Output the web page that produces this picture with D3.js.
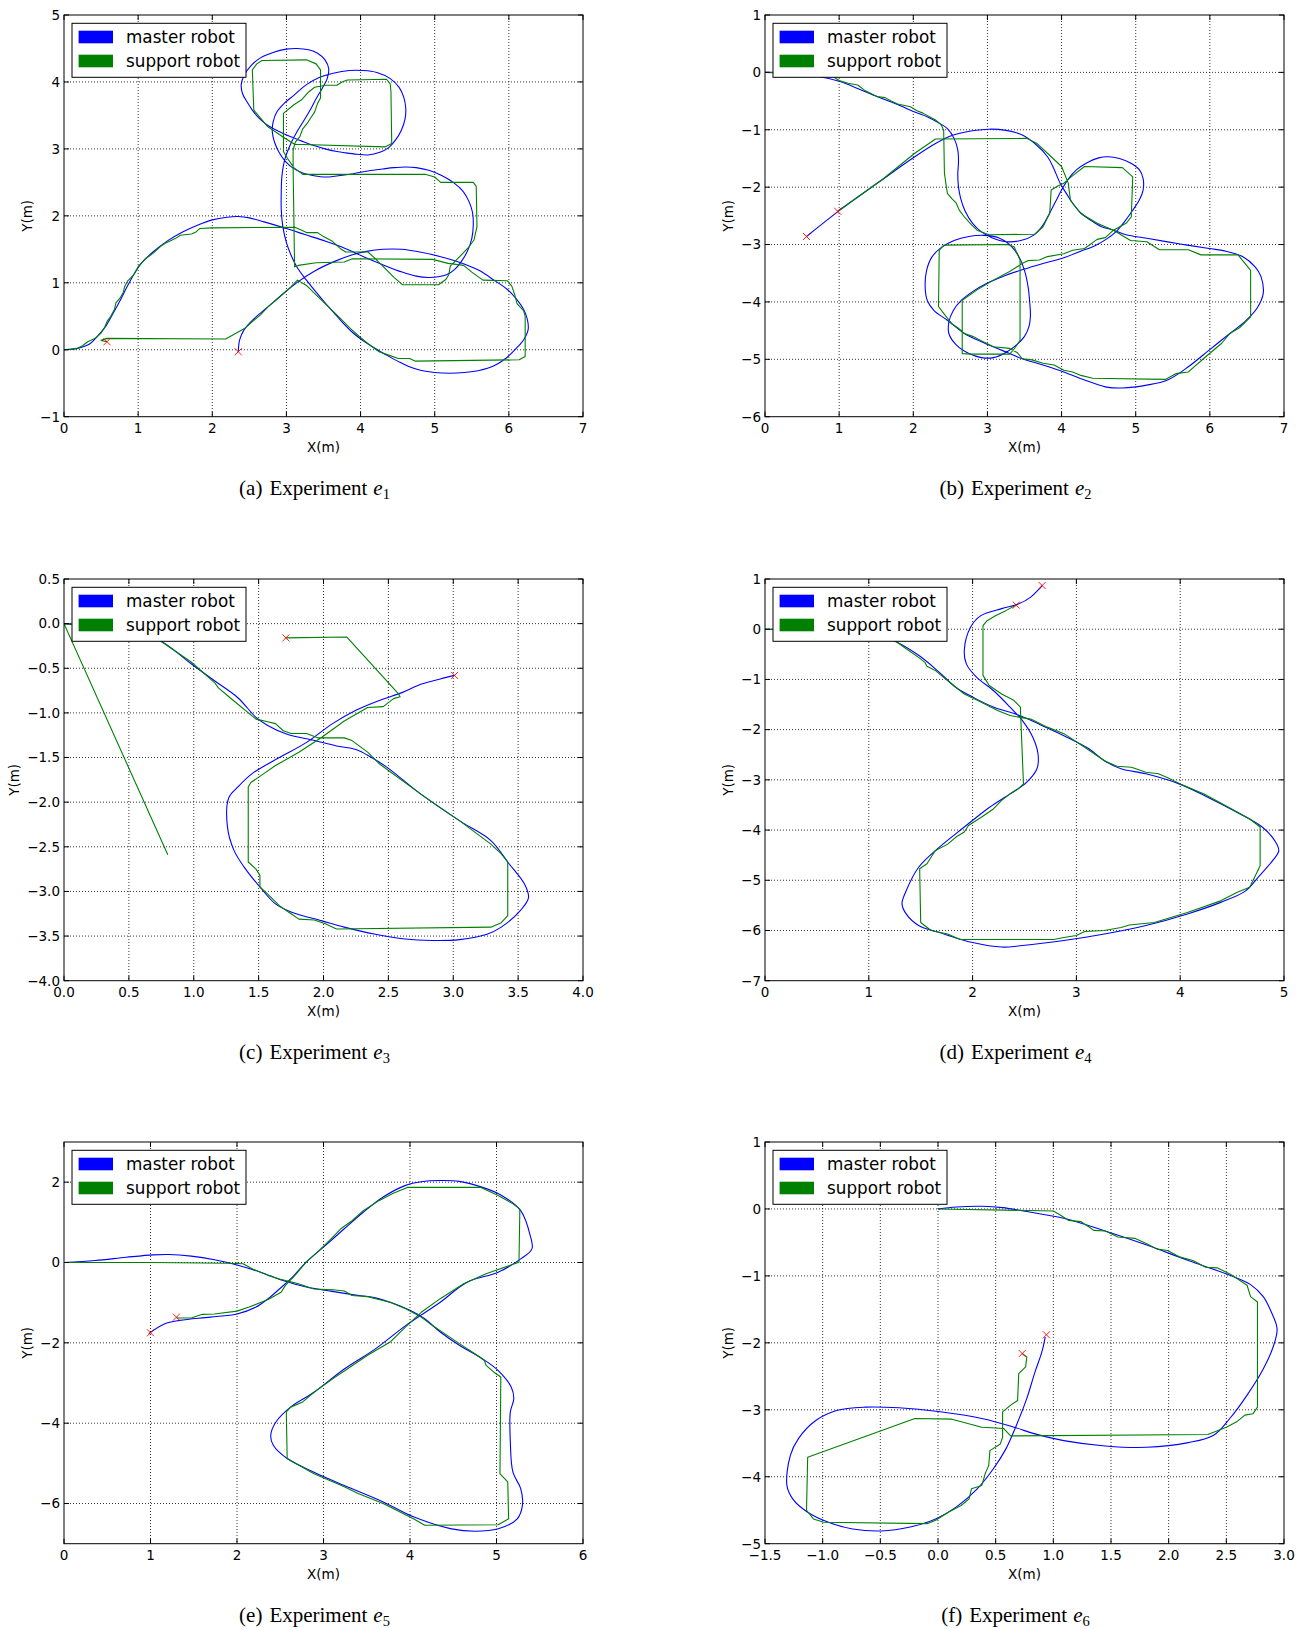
<!DOCTYPE html>
<html>
<head>
<meta charset="utf-8">
<script src="https://cdn.jsdelivr.net/npm/d3@7"></script>
<style>
  body { margin: 0; background: #fff; }
  text { font-family: "DejaVu Sans", sans-serif; }
  .cap { font-family: "Liberation Serif", "Times New Roman", serif; }
</style>
</head>
<body>
<svg id="fig" width="1299" height="1629"></svg>
<script>
// ---- data (metres) ----

// (a) experiment e1
const masterA = [[0,0],[0.15,0.01],[0.25,0.04],[0.35,0.09],[0.45,0.2],[0.55,0.33],[0.65,0.52],[0.75,0.72],[0.85,0.94],[0.95,1.14],[1.05,1.3],[1.2,1.46],[1.4,1.63],[1.6,1.76],[1.8,1.86],[2.0,1.94],[2.2,1.98],[2.35,1.99],[2.5,1.97],[2.7,1.91],[3.0,1.81],[3.25,1.72],[3.53,1.62],[3.8,1.51],[4.04,1.39],[4.3,1.27],[4.56,1.16],[4.75,1.1],[4.92,1.08],[5.05,1.09],[5.16,1.12],[5.27,1.2],[5.36,1.32],[5.44,1.47],[5.5,1.66],[5.52,1.86],[5.51,2.05],[5.46,2.22],[5.38,2.37],[5.25,2.5],[5.1,2.6],[4.92,2.68],[4.75,2.72],[4.61,2.73],[4.45,2.72],[4.3,2.7],[4.1,2.67],[3.9,2.63],[3.7,2.6],[3.53,2.58],[3.37,2.6],[3.22,2.64],[3.08,2.72],[2.98,2.82],[2.9,2.95],[2.84,3.1],[2.81,3.25],[2.82,3.4],[2.87,3.55],[2.97,3.68],[3.1,3.8],[3.27,3.96],[3.45,4.07],[3.63,4.13],[3.85,4.17],[4.04,4.17],[4.22,4.14],[4.4,4.05],[4.52,3.92],[4.58,3.78],[4.61,3.6],[4.6,3.45],[4.55,3.28],[4.47,3.13],[4.38,3.02],[4.26,2.95],[4.1,2.91],[3.95,2.92],[3.8,2.94],[3.68,2.96],[3.52,3.0],[3.37,3.05],[3.2,3.12],[3.06,3.18],[2.9,3.26],[2.75,3.35],[2.63,3.46],[2.54,3.58],[2.47,3.7],[2.41,3.82],[2.39,3.96],[2.43,4.1],[2.52,4.24],[2.65,4.36],[2.82,4.44],[3.0,4.49],[3.14,4.5],[3.3,4.48],[3.42,4.43],[3.52,4.33],[3.57,4.2],[3.55,4.05],[3.48,3.9],[3.4,3.75],[3.33,3.6],[3.25,3.45],[3.15,3.27],[3.06,3.08],[2.98,2.85],[2.94,2.6],[2.93,2.35],[2.93,2.1],[2.95,1.85],[3.0,1.6],[3.06,1.42],[3.15,1.22],[3.27,1.04],[3.4,0.86],[3.53,0.69],[3.66,0.53],[3.78,0.38],[3.9,0.25],[4.04,0.13],[4.2,0.02],[4.35,-0.08],[4.5,-0.17],[4.65,-0.25],[4.82,-0.31],[5.0,-0.34],[5.2,-0.35],[5.4,-0.34],[5.6,-0.31],[5.8,-0.24],[5.97,-0.12],[6.1,0.02],[6.2,0.15],[6.26,0.3],[6.25,0.45],[6.2,0.6],[6.1,0.76],[5.98,0.9],[5.8,1.04],[5.59,1.19],[5.35,1.3],[5.08,1.39],[4.8,1.46],[4.55,1.5],[4.3,1.5],[4.08,1.47],[3.89,1.42],[3.65,1.32],[3.37,1.17],[3.15,1.01],[2.96,0.84],[2.75,0.64],[2.54,0.44],[2.43,0.3],[2.37,0.15],[2.35,-0.03]];
const supportA = [[0,0],[0.17,0.02],[0.25,0.06],[0.32,0.12],[0.42,0.17],[0.5,0.25],[0.55,0.34],[0.58,0.42],[0.63,0.5],[0.68,0.6],[0.7,0.7],[0.76,0.78],[0.8,0.86],[0.82,0.95],[0.86,1.03],[0.94,1.12],[1.0,1.24],[1.1,1.36],[1.2,1.44],[1.3,1.54],[1.38,1.6],[1.5,1.66],[1.57,1.71],[1.72,1.73],[1.78,1.76],[1.83,1.81],[2.0,1.82],[3.11,1.83],[3.2,1.79],[3.27,1.75],[3.42,1.75],[3.5,1.69],[3.62,1.62],[3.68,1.56],[3.74,1.5],[3.8,1.46],[4.1,1.46],[4.18,1.38],[4.3,1.25],[4.45,1.08],[4.57,0.97],[5.05,0.97],[5.15,1.05],[5.19,1.12],[5.21,1.25],[5.3,1.35],[5.45,1.52],[5.53,1.64],[5.57,1.84],[5.56,2.44],[5.52,2.5],[5.08,2.5],[5.0,2.58],[4.87,2.62],[3.22,2.62],[3.1,2.72],[3.02,2.85],[2.96,2.96],[2.96,3.53],[3.1,3.66],[3.2,3.73],[3.3,3.85],[3.38,3.92],[3.53,3.95],[3.68,3.95],[3.75,4.0],[3.82,4.03],[4.35,4.04],[4.4,3.97],[4.41,3.85],[4.42,3.08],[4.33,3.03],[3.11,3.07],[2.98,3.16],[2.75,3.33],[2.56,3.58],[2.54,4.18],[2.6,4.27],[2.67,4.32],[3.27,4.33],[3.4,4.27],[3.46,4.18],[3.46,3.76],[3.42,3.68],[3.38,3.55],[3.32,3.45],[3.28,3.38],[3.22,3.3],[3.18,3.18],[3.12,3.1],[3.09,2.98],[3.09,2.73],[3.11,1.24],[3.16,1.26],[3.4,1.3],[3.78,1.31],[3.89,1.36],[4.97,1.35],[5.18,1.29],[5.39,1.26],[5.5,1.16],[5.65,1.04],[5.98,1.03],[6.04,0.95],[6.08,0.82],[6.11,0.69],[6.2,0.58],[6.22,0.5],[6.22,-0.1],[6.14,-0.15],[4.74,-0.17],[4.66,-0.13],[4.51,-0.13],[4.38,-0.08],[4.25,-0.03],[4.1,0.09],[3.99,0.19],[3.85,0.33],[3.7,0.5],[3.55,0.66],[3.4,0.82],[3.27,0.96],[3.15,1.04],[3.06,0.94],[2.9,0.78],[2.75,0.64],[2.65,0.52],[2.54,0.42],[2.44,0.32],[2.18,0.16],[0.58,0.17],[0.5,0.14],[0.58,0.12]];
const endsA = [[0.58,0.12],[2.35,-0.03]];

// (b) experiment e2
const masterB = [[0,0],[0.3,-0.01],[0.67,-0.06],[1.01,-0.16],[1.25,-0.28],[1.51,-0.42],[1.77,-0.55],[2.02,-0.69],[2.2,-0.78],[2.33,-0.87],[2.46,-0.98],[2.55,-1.15],[2.6,-1.35],[2.61,-1.55],[2.6,-1.78],[2.61,-2.0],[2.64,-2.2],[2.7,-2.42],[2.8,-2.63],[2.92,-2.78],[3.06,-2.88],[3.25,-2.95],[3.45,-2.93],[3.62,-2.84],[3.74,-2.68],[3.84,-2.45],[3.92,-2.25],[4.0,-2.05],[4.09,-1.86],[4.2,-1.7],[4.35,-1.57],[4.5,-1.49],[4.63,-1.47],[4.78,-1.5],[4.93,-1.58],[5.05,-1.7],[5.1,-1.85],[5.1,-2.05],[5.05,-2.22],[4.95,-2.42],[4.85,-2.6],[4.74,-2.77],[4.6,-2.91],[4.45,-3.02],[4.25,-3.12],[4.03,-3.23],[3.75,-3.33],[3.47,-3.44],[3.2,-3.56],[3.0,-3.67],[2.8,-3.82],[2.65,-3.97],[2.54,-4.15],[2.48,-4.35],[2.48,-4.55],[2.58,-4.75],[2.75,-4.9],[2.92,-4.97],[3.08,-4.97],[3.25,-4.88],[3.4,-4.74],[3.5,-4.6],[3.56,-4.43],[3.58,-4.25],[3.57,-4.0],[3.55,-3.75],[3.5,-3.45],[3.42,-3.2],[3.3,-3.0],[3.15,-2.88],[2.95,-2.84],[2.75,-2.86],[2.55,-2.93],[2.38,-3.05],[2.25,-3.22],[2.18,-3.45],[2.16,-3.74],[2.19,-3.98],[2.28,-4.15],[2.46,-4.32],[2.69,-4.55],[2.91,-4.69],[3.19,-4.84],[3.47,-4.99],[3.75,-5.1],[4.03,-5.22],[4.31,-5.36],[4.59,-5.48],[4.82,-5.5],[5.15,-5.45],[5.43,-5.36],[5.71,-5.13],[5.99,-4.84],[6.27,-4.55],[6.49,-4.32],[6.64,-4.1],[6.72,-3.85],[6.69,-3.56],[6.61,-3.39],[6.44,-3.21],[6.2,-3.11],[5.99,-3.07],[5.6,-2.99],[5.15,-2.89],[4.87,-2.83],[4.7,-2.75],[4.54,-2.69],[4.42,-2.6],[4.26,-2.45],[4.15,-2.28],[4.06,-2.1],[3.98,-1.93],[3.89,-1.66],[3.81,-1.47],[3.64,-1.24],[3.47,-1.09],[3.25,-1.01],[3.02,-0.99],[2.74,-1.03],[2.52,-1.1],[2.3,-1.24],[2.02,-1.47],[1.57,-1.88],[1.01,-2.4],[0.56,-2.86]];
const supportB = [[0,0],[0.5,-0.01],[0.9,-0.06],[1.0,-0.14],[1.12,-0.19],[1.25,-0.22],[1.34,-0.31],[1.51,-0.42],[1.62,-0.44],[1.7,-0.5],[1.79,-0.55],[1.96,-0.6],[2.05,-0.67],[2.13,-0.71],[2.3,-0.83],[2.38,-0.92],[2.41,-1.01],[2.42,-1.76],[2.46,-2.11],[2.52,-2.2],[2.58,-2.28],[2.62,-2.4],[2.69,-2.52],[2.78,-2.65],[2.86,-2.75],[3.02,-2.83],[3.64,-2.82],[3.75,-2.69],[3.8,-2.56],[3.84,-2.46],[3.86,-2.05],[3.95,-1.98],[4.03,-1.93],[4.15,-1.8],[4.31,-1.64],[4.82,-1.66],[4.96,-1.82],[4.94,-2.52],[4.87,-2.63],[4.7,-2.75],[4.59,-2.88],[4.48,-2.91],[4.31,-3.07],[4.15,-3.1],[4.03,-3.16],[3.81,-3.21],[3.7,-3.27],[3.55,-3.28],[3.47,-3.33],[3.3,-3.47],[3.08,-3.62],[2.86,-3.79],[2.66,-3.97],[2.66,-4.9],[2.8,-4.91],[3.3,-4.91],[3.36,-4.82],[3.44,-4.67],[3.44,-3.27],[3.36,-3.04],[3.27,-3.0],[2.41,-3.01],[2.35,-3.1],[2.34,-4.08],[2.41,-4.2],[2.52,-4.38],[2.6,-4.45],[2.69,-4.55],[2.8,-4.6],[2.91,-4.67],[3.08,-4.78],[3.3,-4.81],[3.4,-4.88],[3.47,-4.99],[3.6,-5.01],[3.75,-5.07],[3.9,-5.1],[4.03,-5.19],[4.15,-5.22],[4.26,-5.28],[4.42,-5.33],[5.4,-5.35],[5.54,-5.25],[5.71,-5.22],[5.94,-4.96],[6.16,-4.72],[6.27,-4.55],[6.4,-4.45],[6.55,-4.26],[6.55,-3.45],[6.38,-3.18],[5.88,-3.18],[5.71,-3.09],[5.32,-3.09],[5.15,-2.95],[4.93,-2.93],[4.8,-2.83],[4.7,-2.75],[4.48,-2.63],[4.26,-2.46],[4.12,-2.23],[4.09,-1.93],[4.0,-1.64],[3.86,-1.47],[3.67,-1.24],[3.53,-1.15],[2.3,-1.16],[2.02,-1.41],[1.57,-1.88],[0.98,-2.42]];
const endsB = [[0.98,-2.42],[0.56,-2.86]];

// (c) experiment e3
const masterC = [[0,0],[0.2,-0.02],[0.45,-0.07],[0.6,-0.11],[0.75,-0.2],[0.85,-0.3],[0.98,-0.45],[1.16,-0.64],[1.34,-0.83],[1.48,-1.05],[1.57,-1.14],[1.72,-1.24],[1.93,-1.31],[2.1,-1.37],[2.25,-1.41],[2.37,-1.5],[2.49,-1.61],[2.75,-1.91],[3.05,-2.21],[3.29,-2.43],[3.43,-2.69],[3.55,-2.92],[3.58,-3.07],[3.52,-3.21],[3.37,-3.4],[3.26,-3.48],[3.05,-3.54],[2.84,-3.55],[2.61,-3.53],[2.4,-3.48],[2.16,-3.4],[1.99,-3.33],[1.75,-3.23],[1.63,-3.14],[1.51,-2.95],[1.39,-2.73],[1.31,-2.54],[1.26,-2.28],[1.27,-1.95],[1.34,-1.83],[1.45,-1.68],[1.66,-1.5],[1.87,-1.33],[2.07,-1.12],[2.25,-0.97],[2.43,-0.86],[2.61,-0.77],[2.75,-0.68],[2.9,-0.62],[3.01,-0.58]];
const supportC = [[0.8,-2.59],[0,0],[0.35,-0.05],[0.7,-0.15],[0.98,-0.43],[1.16,-0.66],[1.19,-0.72],[1.28,-0.83],[1.48,-1.07],[1.57,-1.1],[1.63,-1.12],[1.69,-1.2],[1.75,-1.23],[1.87,-1.23],[1.96,-1.28],[2.16,-1.28],[2.22,-1.31],[2.34,-1.44],[2.43,-1.57],[2.75,-1.91],[3.05,-2.21],[3.29,-2.47],[3.37,-2.58],[3.42,-2.67],[3.42,-3.27],[3.37,-3.35],[3.29,-3.4],[2.1,-3.42],[2.01,-3.36],[1.93,-3.32],[1.81,-3.31],[1.75,-3.25],[1.66,-3.16],[1.57,-3.03],[1.51,-2.95],[1.51,-2.82],[1.48,-2.75],[1.42,-2.67],[1.42,-1.83],[1.44,-1.78],[1.54,-1.68],[1.63,-1.59],[1.81,-1.44],[1.99,-1.27],[2.16,-1.09],[2.34,-0.94],[2.46,-0.93],[2.54,-0.84],[2.59,-0.82],[2.58,-0.79],[2.18,-0.15],[1.71,-0.16]];
const endsC = [[1.71,-0.16],[3.01,-0.58]];

// (d) experiment e4
const masterD = [[0,0],[0.5,-0.02],[0.9,-0.08],[1.1,-0.15],[1.24,-0.23],[1.48,-0.52],[1.68,-0.86],[1.84,-1.16],[2.0,-1.35],[2.2,-1.55],[2.44,-1.71],[2.64,-1.89],[2.88,-2.12],[3.12,-2.38],[3.27,-2.62],[3.43,-2.78],[3.67,-2.88],[3.99,-3.08],[4.27,-3.35],[4.55,-3.65],[4.79,-3.94],[4.91,-4.21],[4.95,-4.41],[4.89,-4.61],[4.75,-4.94],[4.63,-5.21],[4.39,-5.44],[4.07,-5.67],[3.67,-5.9],[3.27,-6.07],[2.88,-6.2],[2.48,-6.3],[2.28,-6.33],[2.0,-6.24],[1.68,-6.04],[1.48,-5.9],[1.36,-5.67],[1.32,-5.47],[1.36,-5.21],[1.48,-4.74],[1.68,-4.34],[1.92,-3.94],[2.16,-3.55],[2.36,-3.28],[2.52,-3.05],[2.62,-2.78],[2.63,-2.48],[2.58,-2.15],[2.48,-1.82],[2.36,-1.55],[2.2,-1.22],[2.04,-0.96],[1.94,-0.69],[1.92,-0.42],[1.98,0.04],[2.08,0.27],[2.28,0.41],[2.44,0.5],[2.56,0.64],[2.64,0.8],[2.67,0.87]];
const supportD = [[0,0],[0.6,-0.01],[1.0,-0.08],[1.24,-0.21],[1.36,-0.39],[1.48,-0.56],[1.54,-0.66],[1.56,-0.74],[1.64,-0.82],[1.72,-0.96],[1.8,-1.09],[1.92,-1.29],[2.08,-1.45],[2.24,-1.62],[2.36,-1.72],[2.56,-1.79],[2.72,-1.95],[2.88,-2.08],[3.08,-2.35],[3.27,-2.62],[3.39,-2.73],[3.53,-2.75],[3.6,-2.8],[3.67,-2.85],[3.79,-2.88],[3.87,-2.95],[4.03,-3.11],[4.23,-3.28],[4.47,-3.55],[4.67,-3.78],[4.77,-3.94],[4.77,-4.71],[4.67,-5.14],[4.55,-5.24],[4.39,-5.41],[4.07,-5.64],[3.75,-5.84],[3.51,-5.89],[3.43,-5.94],[3.27,-6.0],[3.08,-6.02],[3.0,-6.1],[2.88,-6.14],[2.78,-6.18],[1.88,-6.18],[1.76,-6.07],[1.6,-6.0],[1.5,-5.84],[1.49,-4.77],[1.56,-4.67],[1.6,-4.54],[1.64,-4.41],[1.76,-4.28],[1.84,-4.14],[1.92,-4.04],[1.96,-3.91],[2.08,-3.75],[2.2,-3.58],[2.28,-3.41],[2.36,-3.28],[2.44,-3.18],[2.49,-3.08],[2.46,-1.55],[2.4,-1.42],[2.28,-1.29],[2.16,-1.12],[2.1,-0.92],[2.1,0.07],[2.14,0.17],[2.22,0.27],[2.32,0.37],[2.42,0.48]];
const endsD = [[2.42,0.48],[2.67,0.87]];

// (e) experiment e5
const masterE = [[0,0],[0.36,0.05],[0.72,0.13],[1.03,0.19],[1.21,0.2],[1.47,0.16],[1.74,0.07],[2.0,-0.06],[2.27,-0.24],[2.53,-0.45],[2.8,-0.61],[3.07,-0.71],[3.33,-0.8],[3.6,-0.88],[3.77,-0.99],[4.0,-1.19],[4.17,-1.4],[4.35,-1.73],[4.57,-2.06],[4.84,-2.4],[5.02,-2.69],[5.17,-3.1],[5.2,-3.39],[5.16,-3.72],[5.16,-4.47],[5.19,-5.22],[5.28,-5.63],[5.3,-6.04],[5.24,-6.38],[5.02,-6.63],[4.75,-6.69],[4.48,-6.63],[4.04,-6.33],[3.69,-5.96],[3.24,-5.55],[2.89,-5.22],[2.58,-4.88],[2.42,-4.55],[2.39,-4.3],[2.45,-3.97],[2.62,-3.6],[2.89,-3.23],[3.24,-2.65],[3.6,-2.15],[3.95,-1.57],[4.35,-0.99],[4.66,-0.49],[5.02,-0.24],[5.28,0.09],[5.41,0.34],[5.39,0.67],[5.28,1.29],[5.06,1.67],[4.84,1.87],[4.57,2.02],[4.35,2.04],[4.13,2.01],[3.95,1.92],[3.69,1.63],[3.46,1.25],[3.24,0.84],[3.02,0.42],[2.8,0.01],[2.62,-0.41],[2.49,-0.66],[2.36,-0.9],[2.22,-1.11],[2.0,-1.28],[1.69,-1.36],[1.34,-1.44],[1.16,-1.53],[0.98,-1.77]];
const supportE = [[0,0],[1.0,0.0],[1.91,-0.02],[2.07,-0.03],[2.18,-0.16],[2.36,-0.32],[2.49,-0.41],[2.6,-0.47],[2.71,-0.53],[2.89,-0.66],[3.11,-0.68],[3.24,-0.71],[3.33,-0.82],[3.51,-0.85],[3.64,-0.92],[3.77,-0.99],[3.95,-1.15],[4.13,-1.36],[4.26,-1.57],[4.4,-1.77],[4.57,-2.02],[4.75,-2.27],[4.86,-2.44],[4.88,-2.56],[4.97,-2.73],[5.05,-2.85],[5.04,-5.26],[5.13,-5.46],[5.14,-6.38],[5.02,-6.53],[4.17,-6.54],[4.04,-6.38],[3.69,-6.0],[3.4,-5.75],[3.24,-5.58],[2.89,-5.26],[2.58,-4.88],[2.57,-3.72],[2.62,-3.6],[2.76,-3.47],[2.89,-3.23],[3.11,-2.89],[3.24,-2.7],[3.51,-2.31],[3.77,-1.98],[3.95,-1.6],[4.13,-1.24],[4.35,-0.9],[4.62,-0.53],[4.88,-0.28],[5.26,0.01],[5.27,1.33],[5.19,1.46],[5.02,1.67],[4.82,1.87],[3.97,1.87],[3.8,1.72],[3.64,1.54],[3.46,1.29],[3.33,1.04],[3.2,0.84],[3.07,0.55],[2.93,0.26],[2.8,0.01],[2.67,-0.32],[2.56,-0.57],[2.51,-0.74],[2.36,-0.92],[2.14,-1.11],[2.0,-1.21],[1.74,-1.28],[1.6,-1.29],[1.47,-1.38],[1.3,-1.38]];
const endsE = [[1.3,-1.36],[1.0,-1.75]];

// (f) experiment e6
const masterF = [[0,0],[0.16,0.03],[0.38,0.04],[0.56,0.02],[0.74,-0.03],[1.09,-0.14],[1.45,-0.33],[1.81,-0.54],[2.17,-0.77],[2.53,-0.99],[2.71,-1.13],[2.82,-1.31],[2.89,-1.54],[2.94,-1.79],[2.91,-2.04],[2.82,-2.39],[2.68,-2.78],[2.53,-3.13],[2.39,-3.38],[2.17,-3.49],[1.81,-3.56],[1.45,-3.54],[1.09,-3.46],[0.84,-3.36],[0.66,-3.26],[0.38,-3.13],[0.02,-3.03],[-0.34,-2.97],[-0.63,-2.96],[-0.88,-3.01],[-1.06,-3.16],[-1.21,-3.43],[-1.28,-3.68],[-1.31,-4.13],[-1.26,-4.33],[-1.13,-4.53],[-0.95,-4.68],[-0.74,-4.78],[-0.49,-4.81],[-0.24,-4.75],[-0.02,-4.63],[0.16,-4.45],[0.34,-4.18],[0.48,-3.88],[0.59,-3.58],[0.68,-3.23],[0.77,-2.83],[0.84,-2.44],[0.9,-2.14],[0.93,-1.91]];
const supportF = [[0,0],[1.0,-0.03],[1.06,-0.09],[1.13,-0.17],[1.24,-0.19],[1.31,-0.27],[1.35,-0.32],[1.45,-0.33],[1.56,-0.42],[1.71,-0.44],[1.81,-0.52],[1.9,-0.6],[1.99,-0.62],[2.1,-0.72],[2.21,-0.77],[2.32,-0.87],[2.42,-0.88],[2.53,-0.97],[2.68,-1.14],[2.71,-1.31],[2.77,-1.39],[2.77,-2.96],[2.73,-3.06],[2.66,-3.08],[2.59,-3.18],[2.5,-3.26],[2.34,-3.37],[0.63,-3.39],[0.57,-3.28],[0.38,-3.26],[0.12,-3.14],[-0.2,-3.13],[-1.13,-3.71],[-1.14,-4.5],[-1.08,-4.63],[-0.99,-4.68],[-0.09,-4.7],[-0.02,-4.65],[0.09,-4.53],[0.2,-4.43],[0.27,-4.33],[0.29,-4.18],[0.38,-4.13],[0.41,-3.95],[0.44,-3.83],[0.45,-3.61],[0.54,-3.51],[0.56,-3.41],[0.56,-3.03],[0.63,-2.93],[0.69,-2.86],[0.7,-2.46],[0.76,-2.36],[0.77,-2.21],[0.73,-2.16]];
const endsF = [[0.73,-2.16],[0.94,-1.88]];

// axis limits and tick values
const xTicksA = [0,1,2,3,4,5,6,7], yTicksA = [-1,0,1,2,3,4,5];
const xTicksB = [0,1,2,3,4,5,6,7], yTicksB = [-6,-5,-4,-3,-2,-1,0,1];
const xTicksC = [0,0.5,1,1.5,2,2.5,3,3.5,4], yTicksC = [-4,-3.5,-3,-2.5,-2,-1.5,-1,-0.5,0,0.5];
const xTicksD = [0,1,2,3,4,5], yTicksD = [-7,-6,-5,-4,-3,-2,-1,0,1];
const xTicksE = [0,1,2,3,4,5,6], yTicksE = [-6,-4,-2,0,2];
const xTicksF = [-1.5,-1,-0.5,0,0.5,1,1.5,2,2.5,3], yTicksF = [-5,-4,-3,-2,-1,0,1];
const yLimE = [-7, 3];

const seriesNames = ["master robot", "support robot"];
const seriesColors = ["#0000ff", "#008000"];

// ---- layout ----
const colLeft = [64, 765];
const rowTop = [15, 579, 1142];
const axW = 519, axH = 401.7;

const fInt = d3.format("d"), fOne = d3.format(".1f");

const panels = [
  {tag: "a", n: "1", c: 0, r: 0, xd: [0,7], yd: [-1,5], xt: xTicksA, yt: yTicksA, fx: fInt, fy: fInt, m: masterA, s: supportA, e: endsA},
  {tag: "b", n: "2", c: 1, r: 0, xd: [0,7], yd: [-6,1], xt: xTicksB, yt: yTicksB, fx: fInt, fy: fInt, m: masterB, s: supportB, e: endsB},
  {tag: "c", n: "3", c: 0, r: 1, xd: [0,4], yd: [-4,0.5], xt: xTicksC, yt: yTicksC, fx: fOne, fy: fOne, m: masterC, s: supportC, e: endsC},
  {tag: "d", n: "4", c: 1, r: 1, xd: [0,5], yd: [-7,1], xt: xTicksD, yt: yTicksD, fx: fInt, fy: fInt, m: masterD, s: supportD, e: endsD},
  {tag: "e", n: "5", c: 0, r: 2, xd: [0,6], yd: yLimE, xt: xTicksE, yt: yTicksE, fx: fInt, fy: fInt, m: masterE, s: supportE, e: endsE},
  {tag: "f", n: "6", c: 1, r: 2, xd: [-1.5,3], yd: [-5,1], xt: xTicksF, yt: yTicksF, fx: fOne, fy: fInt, m: masterF, s: supportF, e: endsF}
];

const svg = d3.select("#fig");
svg.append("rect").attr("width", 1299).attr("height", 1629).attr("fill", "#fff");

panels.forEach((p, i) => {
  const left = colLeft[p.c], top = rowTop[p.r];
  const x = d3.scaleLinear().domain(p.xd).range([0, axW]);
  const y = d3.scaleLinear().domain(p.yd).range([axH, 0]);

  const g = svg.append("g").attr("transform", `translate(${left},${top})`);

  g.append("clipPath").attr("id", "clip" + i)
    .append("rect").attr("width", axW).attr("height", axH);

  // grid
  const grid = g.append("g").attr("stroke", "#000").attr("stroke-width", 0.8)
    .attr("stroke-dasharray", "1,2");
  grid.selectAll(".gx").data(p.xt.slice(1, -1)).join("line")
    .attr("x1", d => x(d)).attr("x2", d => x(d)).attr("y1", 0).attr("y2", axH);
  grid.selectAll(".gy").data(p.yt.filter(v => v > p.yd[0] && v < p.yd[1])).join("line")
    .attr("y1", d => y(d)).attr("y2", d => y(d)).attr("x1", 0).attr("x2", axW);

  // trajectories
  const plot = g.append("g").attr("clip-path", `url(#clip${i})`);
  const smooth = d3.line().x(d => x(d[0])).y(d => y(d[1])).curve(d3.curveCatmullRom.alpha(0.5));
  const plain = d3.line().x(d => x(d[0])).y(d => y(d[1]));
  plot.append("path").attr("d", smooth(p.m)).attr("fill", "none")
    .attr("stroke", seriesColors[0]).attr("stroke-width", 1.1);
  plot.append("path").attr("d", plain(p.s)).attr("fill", "none")
    .attr("stroke", seriesColors[1]).attr("stroke-width", 1.1).attr("stroke-linejoin", "round");

  // end markers
  plot.selectAll(".end").data(p.e).join("path")
    .attr("transform", d => `translate(${x(d[0])},${y(d[1])})`)
    .attr("d", "M-3.5,-3.5L3.5,3.5M-3.5,3.5L3.5,-3.5")
    .attr("stroke", "#ff0000").attr("stroke-width", 0.9).attr("fill", "none");

  // ticks, inward on all four sides
  const tk = g.append("g").attr("stroke", "#000").attr("stroke-width", 1);
  p.xt.forEach(v => {
    tk.append("line").attr("x1", x(v)).attr("x2", x(v)).attr("y1", axH).attr("y2", axH - 5);
    tk.append("line").attr("x1", x(v)).attr("x2", x(v)).attr("y1", 0).attr("y2", 5);
  });
  p.yt.forEach(v => {
    tk.append("line").attr("y1", y(v)).attr("y2", y(v)).attr("x1", 0).attr("x2", 5);
    tk.append("line").attr("y1", y(v)).attr("y2", y(v)).attr("x1", axW).attr("x2", axW - 5);
  });

  // frame
  g.append("rect").attr("width", axW).attr("height", axH)
    .attr("fill", "none").attr("stroke", "#000").attr("stroke-width", 1);

  // tick labels
  g.selectAll(".xl").data(p.xt).join("text")
    .attr("x", d => x(d)).attr("y", axH + 16)
    .attr("text-anchor", "middle").attr("font-size", 13.5).text(d => p.fx(d));
  const yl = g.selectAll(".yl").data(p.yt).join("text")
    .attr("x", -4).attr("y", d => y(d)).attr("dy", "0.36em")
    .attr("text-anchor", "end").attr("font-size", 13.5).text(d => p.fy(d));
  let minX = 0;
  yl.each(function () { minX = Math.min(minX, this.getBBox().x); });

  // axis labels
  g.append("text").attr("x", axW / 2).attr("y", axH + 35)
    .attr("text-anchor", "middle").attr("font-size", 13.5).text("X(m)");
  g.append("text").attr("transform", `translate(${minX - 8},${axH / 2}) rotate(-90)`)
    .attr("text-anchor", "middle").attr("font-size", 13.5).text("Y(m)");

  // legend
  const lg = g.append("g").attr("transform", "translate(8,8.3)");
  lg.append("rect").attr("width", 174).attr("height", 54)
    .attr("fill", "#fff").attr("stroke", "#000").attr("stroke-width", 1);
  seriesNames.forEach((name, k) => {
    lg.append("rect").attr("x", 6.6).attr("y", 7.4 + k * 24).attr("width", 34.4).attr("height", 12.6)
      .attr("fill", seriesColors[k]);
    lg.append("text").attr("x", 54).attr("y", 19.8 + k * 24.3)
      .attr("font-size", 16.8).text(name);
  });

  // caption
  const cap = svg.append("text").attr("class", "cap")
    .attr("x", left + axW / 2 - 9).attr("y", top + 480)
    .attr("text-anchor", "middle").attr("font-size", 21);
  cap.append("tspan").text(`(${p.tag})`);
  cap.append("tspan").attr("dx", 7).text("Experiment");
  cap.append("tspan").attr("dx", 6).attr("font-style", "italic").text("e");
  cap.append("tspan").attr("dy", 4).attr("font-size", 14.5).text(p.n);
});
</script>
</body>
</html>
